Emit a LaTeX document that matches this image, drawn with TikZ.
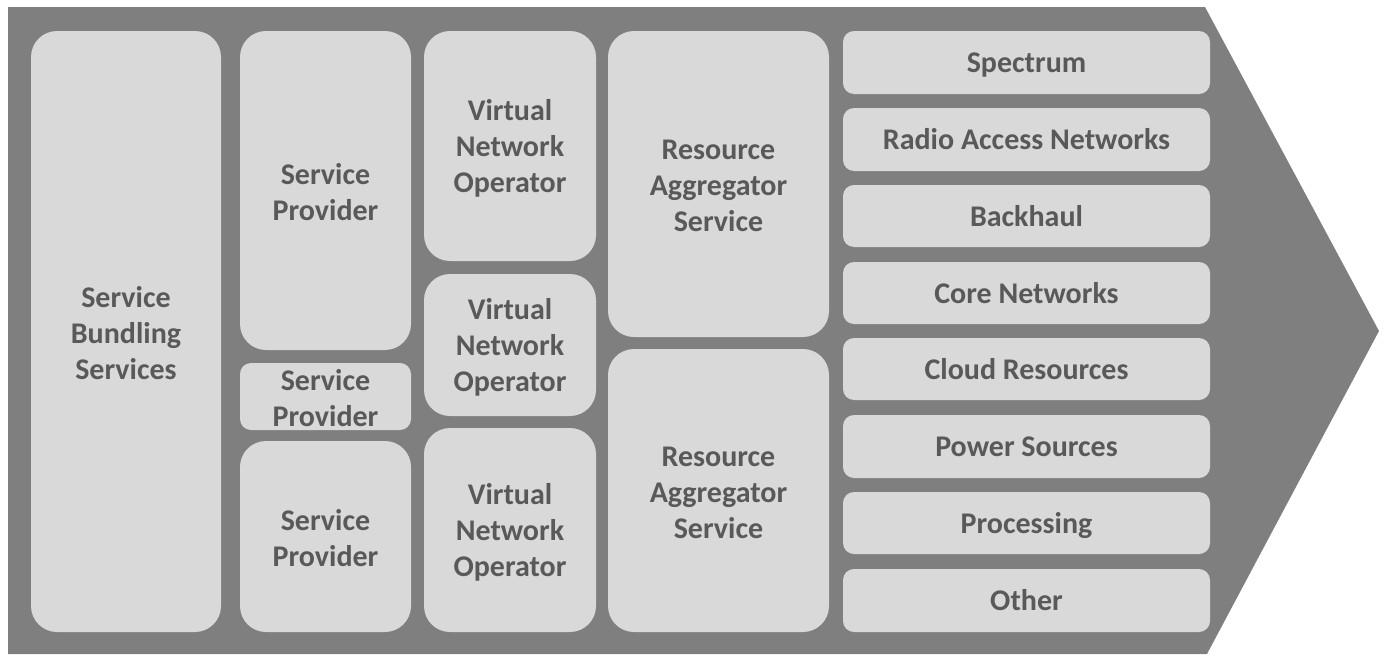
\documentclass[tikz,border=0pt]{standalone}
\usepackage{fontspec}
\setmainfont{Carlito}
\definecolor{bgdark}{HTML}{7F7F7F}
\definecolor{boxfill}{HTML}{D9D9D9}
\definecolor{txt}{HTML}{595959}
\begin{document}
\begin{tikzpicture}[x=1pt,y=-1pt,
  box/.style={fill=boxfill, draw=none, inner sep=0pt},
  bigbox/.style={box, rounded corners=26pt},
  smallbox/.style={box, rounded corners=11pt},
  lbl/.style={inner sep=0pt, align=center, text=txt,
    font=\fontsize{30}{36}\selectfont\bfseries},
  multilbl/.style={lbl, yshift=-2pt},
  rowlbl/.style={lbl, text height=27pt, text depth=7pt}]
\useasboundingbox (0,0) rectangle (1387,664);
\fill[bgdark] (8,7) -- (1205,7) -- (1379,331) -- (1207,654) -- (8,654) -- cycle;
% helper: box node from corners, text as centred label
\newcommand{\bx}[8]{\node[#1, minimum width={#4-#2}, minimum height={#5-#3},
  label={[#7]center:{#8}}] (#6) at ({(#2+#4)/2},{(#3+#5)/2}) {};}
\bx{bigbox}{31}{31}{221}{632}{sbs}{multilbl}{Service\\Bundling\\Services}
\bx{bigbox}{240}{31}{411}{350}{sp1}{multilbl}{Service\\Provider}
\bx{smallbox}{240}{363}{411}{430}{sp2}{multilbl}{Service\\Provider}
\bx{bigbox}{240}{441}{411}{632}{sp3}{multilbl}{Service\\Provider}
\bx{bigbox}{424}{31}{596}{261}{vno1}{multilbl}{Virtual\\Network\\Operator}
\bx{bigbox}{424}{274}{596}{416}{vno2}{multilbl}{Virtual\\Network\\Operator}
\bx{bigbox}{424}{428}{596}{632}{vno3}{multilbl}{Virtual\\Network\\Operator}
\bx{bigbox}{608}{31}{829}{337}{ras1}{multilbl}{Resource\\Aggregator\\Service}
\bx{bigbox}{608}{349}{829}{632}{ras2}{multilbl}{Resource\\Aggregator\\Service}
\bx{smallbox}{843}{31}{1210}{94}{r1}{rowlbl}{Spectrum}
\bx{smallbox}{843}{108}{1210}{171}{r2}{rowlbl}{Radio Access Networks}
\bx{smallbox}{843}{185}{1210}{247}{r3}{rowlbl}{Backhaul}
\bx{smallbox}{843}{262}{1210}{324}{r4}{rowlbl}{Core Networks}
\bx{smallbox}{843}{338}{1210}{400}{r5}{rowlbl}{Cloud Resources}
\bx{smallbox}{843}{415}{1210}{478}{r6}{rowlbl}{Power Sources}
\bx{smallbox}{843}{492}{1210}{554}{r7}{rowlbl}{Processing}
\bx{smallbox}{843}{569}{1210}{632}{r8}{rowlbl}{Other}
\end{tikzpicture}
\end{document}
